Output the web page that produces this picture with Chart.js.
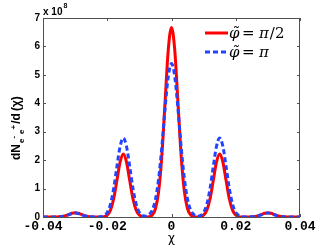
<!DOCTYPE html>
<html>
<head>
<meta charset="utf-8">
<script src="https://cdn.jsdelivr.net/npm/chart.js@4.4.0/dist/chart.umd.min.js"></script>
<style>
  html, body { margin: 0; padding: 0; background: #fff; }
</style>
</head>
<body>
<canvas id="myChart" width="332" height="250"></canvas>
<script>
// chi grid (x axis)
const chi = [
  -0.040, -0.039, -0.038, -0.037, -0.036, -0.035, -0.034, -0.033, -0.032, -0.031,
  -0.030, -0.029, -0.028, -0.027, -0.026, -0.025, -0.024, -0.023, -0.022, -0.021,
  -0.020, -0.019, -0.018, -0.017, -0.016, -0.015, -0.014, -0.013, -0.012, -0.011,
  -0.010, -0.009, -0.008, -0.007, -0.006, -0.005, -0.004, -0.003, -0.002, -0.001,
  0.000,
  0.001, 0.002, 0.003, 0.004, 0.005, 0.006, 0.007, 0.008, 0.009, 0.010,
  0.011, 0.012, 0.013, 0.014, 0.015, 0.016, 0.017, 0.018, 0.019, 0.020,
  0.021, 0.022, 0.023, 0.024, 0.025, 0.026, 0.027, 0.028, 0.029, 0.030,
  0.031, 0.032, 0.033, 0.034, 0.035, 0.036, 0.037, 0.038, 0.039, 0.040
];

// dN/d(chi) in units of 1e8, phi = pi/2
const phiHalfPi = [
  0, 0, 0, 0, 0, 0.005, 0.02, 0.05, 0.09, 0.13,
  0.15, 0.13, 0.09, 0.05, 0.02, 0.005, 0, 0, 0, 0.01,
  0.07, 0.24, 0.64, 1.28, 1.93, 2.22, 1.93, 1.28, 0.64, 0.24,
  0.07, 0.01, 0, 0.01, 0.07, 0.29, 0.90, 2.16, 4.05, 5.89,
  6.67,
  5.89, 4.05, 2.16, 0.90, 0.29, 0.07, 0.01, 0, 0.01, 0.07,
  0.24, 0.64, 1.28, 1.93, 2.22, 1.93, 1.28, 0.64, 0.24, 0.07,
  0.01, 0, 0, 0, 0.005, 0.02, 0.05, 0.09, 0.13, 0.15,
  0.13, 0.09, 0.05, 0.02, 0.005, 0, 0, 0, 0, 0
];

// dN/d(chi) in units of 1e8, phi = pi
const phiPi = [
  0, 0, 0, 0, 0, 0.005, 0.02, 0.04, 0.08, 0.12,
  0.14, 0.12, 0.08, 0.04, 0.02, 0.005, 0, 0, 0.01, 0.05,
  0.16, 0.45, 1.00, 1.77, 2.48, 2.78, 2.48, 1.77, 1.00, 0.45,
  0.16, 0.05, 0.03, 0.08, 0.24, 0.62, 1.35, 2.47, 3.82, 4.95,
  5.40,
  4.95, 3.82, 2.47, 1.35, 0.62, 0.24, 0.08, 0.03, 0.05, 0.16,
  0.45, 1.00, 1.77, 2.48, 2.78, 2.48, 1.77, 1.00, 0.45, 0.16,
  0.05, 0.01, 0, 0, 0.005, 0.02, 0.04, 0.08, 0.12, 0.14,
  0.12, 0.08, 0.04, 0.02, 0.005, 0, 0, 0, 0, 0
];

const xTicks = [-0.04, -0.02, 0, 0.02, 0.04];
const yTicks = [0, 1, 2, 3, 4, 5, 6, 7];

const RED = '#ff0000';
const BLUE = '#2244ff';
const AXIS = '#505050';

const toPoints = (ys) => chi.map((x, i) => ({x: x, y: ys[i]}));

// box, inward ticks, exponent, y title, x title, legend
const decorations = {
  id: 'decorations',
  afterDraw(chart) {
    const {ctx, chartArea: a, scales} = chart;
    ctx.save();

    ctx.strokeStyle = AXIS;
    ctx.lineWidth = 1;
    ctx.strokeRect(a.left + 0.5, a.top + 0.5, a.right - a.left - 1, a.bottom - a.top);

    ctx.beginPath();
    xTicks.forEach(v => {
      const px = Math.round(scales.x.getPixelForValue(v)) + 0.5;
      ctx.moveTo(px, a.bottom); ctx.lineTo(px, a.bottom - 3);
      ctx.moveTo(px, a.top); ctx.lineTo(px, a.top + 3);
    });
    yTicks.forEach(v => {
      const py = Math.round(scales.y.getPixelForValue(v)) + 0.5;
      ctx.moveTo(a.left, py); ctx.lineTo(a.left + 3, py);
      ctx.moveTo(a.right, py); ctx.lineTo(a.right - 3, py);
    });
    ctx.stroke();

    // exponent
    ctx.fillStyle = '#000';
    ctx.textBaseline = 'alphabetic';
    ctx.textAlign = 'left';
    ctx.font = 'bold 10px "Liberation Sans"';
    ctx.fillText('x 10', 43, 15);
    const ew = ctx.measureText('x 10').width;
    ctx.font = 'bold 7px "Liberation Sans"';
    ctx.fillText('8', 43 + ew + 1, 8);

    // x title
    ctx.font = '12px "DejaVu Sans"';
    ctx.textAlign = 'center';
    ctx.textBaseline = 'middle';
    ctx.fillText('χ', (a.left + a.right) / 2, 239);

    // y title (rotated)
    ctx.save();
    ctx.translate(20, 160);
    ctx.rotate(-Math.PI / 2);
    ctx.textAlign = 'left';
    ctx.textBaseline = 'alphabetic';
    let x = 0;
    ctx.font = 'bold 12px "Liberation Sans"';
    ctx.fillText('dN', x, 0); x += ctx.measureText('dN').width + 1;
    ctx.font = 'bold 8px "Liberation Sans"';
    ctx.fillText('e', x, 4); let w = ctx.measureText('e').width;
    ctx.fillText('-', x + w, -4); x += w + ctx.measureText('-').width + 2;
    ctx.fillText('e', x, 4); w = ctx.measureText('e').width;
    ctx.fillText('+', x + w, -4); x += w + ctx.measureText('+').width + 1;
    ctx.font = 'bold 12px "Liberation Sans"';
    ctx.fillText('/d', x, 0); x += ctx.measureText('/d').width + 2;
    ctx.fillText('(χ)', x, 0);
    ctx.restore();

    // legend
    const rows = [
      {color: RED, dash: [], y: 33, tail: '/2'},
      {color: BLUE, dash: [5, 3], y: 52, tail: ''}
    ];
    rows.forEach(r => {
      ctx.strokeStyle = r.color;
      ctx.lineWidth = 3;
      ctx.setLineDash(r.dash);
      ctx.beginPath();
      ctx.moveTo(205, r.y); ctx.lineTo(228, r.y);
      ctx.stroke();
      ctx.setLineDash([]);

      ctx.fillStyle = '#000';
      ctx.textAlign = 'left';
      ctx.textBaseline = 'alphabetic';
      const base = r.y + 5;
      ctx.font = 'italic 15px "DejaVu Serif"';
      ctx.fillText('φ\u0303', 229, base);
      ctx.font = '15px "DejaVu Serif"';
      ctx.fillText('=', 242, base);
      ctx.font = 'italic 15px "DejaVu Serif"';
      ctx.fillText('π', 259, base);
      if (r.tail) {
        const pw = ctx.measureText('π').width;
        ctx.font = '15px "DejaVu Serif"';
        ctx.fillText(r.tail, 259 + pw + 1, base);
      }
    });

    ctx.restore();
  }
};

const ctx = document.getElementById('myChart').getContext('2d');

const myChart = new Chart(ctx, {
  type: 'line',
  data: {
    datasets: [
      {
        label: 'φ̃ = π/2',
        data: toPoints(phiHalfPi),
        borderColor: RED,
        borderWidth: 3,
        pointRadius: 0,
        cubicInterpolationMode: 'monotone',
        order: 1
      },
      {
        label: 'φ̃ = π',
        data: toPoints(phiPi),
        borderColor: BLUE,
        borderWidth: 3,
        borderDash: [5, 3],
        pointRadius: 0,
        cubicInterpolationMode: 'monotone',
        order: 0
      }
    ]
  },
  options: {
    responsive: false,
    animation: false,
    devicePixelRatio: 1,
    layout: {
      padding: {top: 18, right: 32, bottom: 0, left: 0}
    },
    plugins: {
      legend: {display: false},
      tooltip: {enabled: false}
    },
    scales: {
      x: {
        type: 'linear',
        min: -0.04,
        max: 0.04,
        afterBuildTicks: (s) => { s.ticks = xTicks.map(v => ({value: v})); },
        afterFit: (s) => { s.height = 33; },
        grid: {display: false, drawTicks: false},
        border: {display: false},
        ticks: {
          color: '#000',
          padding: 3,
          maxRotation: 0,
          font: {family: 'Liberation Mono', weight: 'bold', size: 13, lineHeight: 1},
          callback: (v) => parseFloat(v.toFixed(2)).toString()
        }
      },
      y: {
        min: 0,
        max: 7,
        afterBuildTicks: (s) => { s.ticks = yTicks.map(v => ({value: v})); },
        afterFit: (s) => { s.width = 43; },
        grid: {display: false, drawTicks: false},
        border: {display: false},
        ticks: {
          color: '#000',
          padding: 3,
          font: {family: 'Liberation Sans', weight: 'bold', size: 10}
        }
      }
    }
  },
  plugins: [decorations]
});
</script>
</body>
</html>
